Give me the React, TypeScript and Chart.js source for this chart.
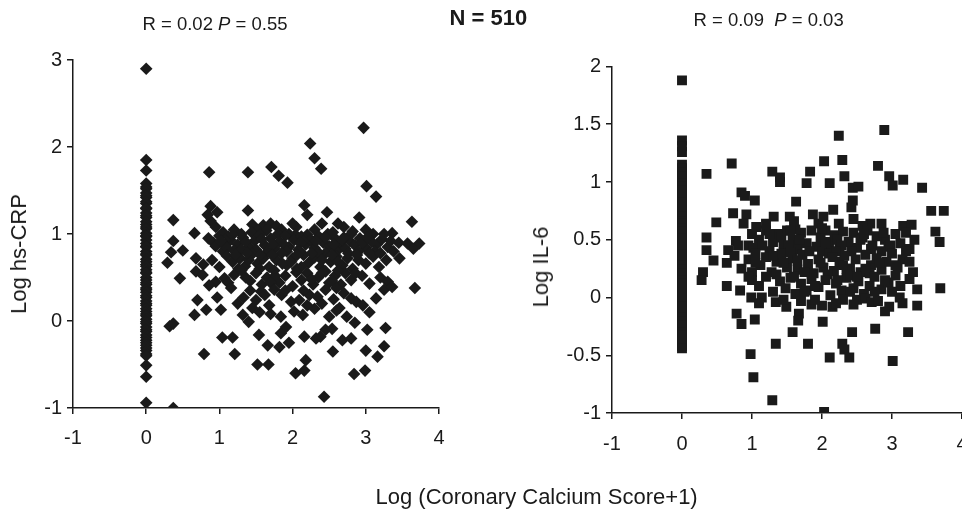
import React, { useEffect, useRef } from 'react';
import { Chart, registerables } from 'chart.js';

Chart.register(...registerables);

// ---------- tick labels ----------
const xTicks = [-1, 0, 1, 2, 3, 4];
const crpYTicks = [-1, 0, 1, 2, 3];
const il6YTicks = [-1, -0.5, 0, 0.5, 1, 1.5, 2];

// ---------- left panel: Log hs-CRP ----------
// subjects with zero calcium score (x = 0)
const crpZeroY = [
  2.9, 1.85, 1.73, 1.58, 1.54, 1.52, 1.47, 1.44, 1.42, 1.37, 1.35, 1.3, 1.29, 1.24, 1.21, 1.19,
  1.14, 1.11, 1.08, 1.06, 1.01, 0.98, 0.97, 0.93, 0.89, 0.86, 0.85, 0.8, 0.77, 0.76, 0.71, 0.68,
  0.65, 0.63, 0.59, 0.56, 0.55, 0.5, 0.47, 0.44, 0.42, 0.38, 0.36, 0.33, 0.29, 0.27, 0.23, 0.2,
  0.18, 0.14, 0.11, 0.08, 0.06, 0.02, -0.01, -0.03, -0.07, -0.1, -0.12, -0.16, -0.19, -0.22,
  -0.25, -0.28, -0.31, -0.34, -0.38, -0.4, -0.51, -0.64, -0.94,
];

// subjects with calcium score > 0: [log calcium, log hs-CRP]
const crpPoints: [number, number][] = [
  // outliers high
  [2.97, 2.22], [2.24, 2.04], [2.3, 1.87], [2.39, 1.75], [0.86, 1.71], [1.39, 1.71], [1.71, 1.77],
  [1.81, 1.67], [1.93, 1.59], [3.01, 1.55], [3.14, 1.43], [2.47, 1.25], [2.16, 1.33],
  // 1.0 – 1.35
  [0.37, 1.16], [0.88, 1.15], [0.84, 1.22], [0.97, 1.25], [0.88, 1.32], [1.39, 1.27], [1.45, 1.11],
  [1.6, 1.1], [1.7, 1.12], [1.78, 1.09], [1.85, 1.05], [2.2, 1.22], [2.91, 1.19], [3.63, 1.14],
  [3.36, 1.01], [1.2, 1.05], [1.3, 1.0], [2.05, 1.08], [2.3, 1.05], [2.55, 1.02], [2.7, 1.08],
  [3.0, 1.05], [3.1, 1.0], [1.05, 1.02], [0.95, 1.08], [2.0, 1.12], [2.4, 1.12], [1.52, 1.04],
  [2.62, 1.12], [2.82, 1.03], [1.95, 1.0], [1.44, 1.02], [1.64, 1.04], [1.8, 1.0], [2.04, 0.99],
  [2.2, 0.99], [2.48, 1.0], [2.8, 1.0], [3.25, 1.0],
  // 0.8 – 1.0
  [0.66, 1.01], [0.85, 0.95], [0.92, 0.9], [1.0, 0.98], [1.08, 0.86], [1.15, 0.93], [1.25, 0.88],
  [1.32, 0.96], [1.4, 0.85], [1.48, 0.92], [1.55, 0.99], [1.62, 0.87], [1.7, 0.95], [1.75, 0.83],
  [1.82, 0.91], [1.9, 0.98], [1.95, 0.85], [2.02, 0.93], [2.08, 0.82], [2.12, 0.97], [2.18, 0.88],
  [2.25, 0.93], [2.3, 0.84], [2.36, 0.97], [2.42, 0.9], [2.5, 0.86], [2.58, 0.95], [2.65, 0.88],
  [2.72, 0.83], [2.78, 0.92], [2.85, 0.87], [2.92, 0.95], [3.0, 0.84], [3.08, 0.91], [3.15, 0.88],
  [3.22, 0.94], [3.3, 0.85], [3.45, 0.9], [3.57, 0.89], [3.73, 0.89], [3.65, 0.83], [0.37, 0.92],
  [0.5, 0.81], [0.34, 0.79], [1.2, 0.81], [1.05, 0.8], [2.6, 0.8], [2.9, 0.8], [3.38, 0.8],
  [1.36, 0.91], [1.58, 0.94], [1.88, 0.88], [2.15, 0.92], [2.45, 0.96], [2.68, 0.93], [1.12, 0.97],
  [0.95, 0.86], [1.02, 0.92], [1.1, 0.84], [1.18, 0.99], [1.3, 0.82], [1.5, 0.82], [1.66, 0.8],
  [1.73, 0.88], [1.92, 0.8], [2.1, 0.9], [2.32, 0.92], [2.56, 0.88], [2.7, 0.96], [2.95, 0.9],
  [3.02, 0.96], [3.12, 0.8], [3.34, 0.92],
  // 0.6 – 0.8
  [0.29, 0.67], [0.68, 0.72], [0.78, 0.65], [0.9, 0.7], [1.0, 0.62], [1.1, 0.75], [1.18, 0.68],
  [1.28, 0.72], [1.35, 0.63], [1.45, 0.77], [1.52, 0.66], [1.6, 0.72], [1.68, 0.62], [1.78, 0.7],
  [1.85, 0.78], [1.92, 0.64], [2.0, 0.72], [2.06, 0.6], [2.15, 0.76], [2.22, 0.67], [2.3, 0.73],
  [2.38, 0.62], [2.45, 0.78], [2.52, 0.68], [2.6, 0.74], [2.68, 0.64], [2.75, 0.72], [2.82, 0.6],
  [2.9, 0.7], [3.0, 0.66], [3.1, 0.74], [3.18, 0.62], [3.28, 0.7], [3.46, 0.72], [3.05, 0.78],
  [2.1, 0.8], [1.4, 0.7], [1.72, 0.76], [2.35, 0.79], [1.22, 0.76], [1.38, 0.78], [1.56, 0.76],
  [1.86, 0.66], [1.98, 0.68], [2.06, 0.76], [2.26, 0.78], [2.4, 0.7], [2.54, 0.76], [2.62, 0.68],
  [2.76, 0.78], [2.88, 0.76], [3.2, 0.78], [1.26, 0.6], [1.55, 0.6], [2.12, 0.62],
  // 0.4 – 0.6
  [0.46, 0.49], [0.68, 0.57], [0.77, 0.53], [0.95, 0.45], [1.07, 0.49], [1.2, 0.53], [1.3, 0.58],
  [1.42, 0.46], [1.5, 0.55], [1.58, 0.42], [1.65, 0.5], [1.75, 0.58], [1.82, 0.44], [1.9, 0.52],
  [2.0, 0.4], [2.05, 0.56], [2.12, 0.47], [2.2, 0.55], [2.28, 0.42], [2.35, 0.5], [2.45, 0.57],
  [2.5, 0.44], [2.58, 0.52], [2.66, 0.42], [2.72, 0.55], [2.8, 0.47], [2.95, 0.52], [3.05, 0.43],
  [3.2, 0.5], [3.3, 0.45], [1.76, 0.52], [2.4, 0.55], [2.62, 0.58], [2.86, 0.55], [1.12, 0.44],
  [1.36, 0.5], [1.7, 0.44], [2.26, 0.48], [2.54, 0.46],
  // 0.2 – 0.4
  [0.86, 0.41], [1.16, 0.38], [0.97, 0.27], [1.33, 0.27], [1.57, 0.34], [1.5, 0.24], [1.62, 0.3],
  [1.75, 0.36], [1.98, 0.22], [2.09, 0.24], [2.23, 0.3], [2.34, 0.28], [2.45, 0.36], [2.56, 0.25],
  [2.7, 0.32], [2.8, 0.26], [2.87, 0.22], [3.14, 0.26], [3.25, 0.36], [3.36, 0.39], [3.67, 0.38],
  [0.7, 0.24], [1.42, 0.35], [1.85, 0.3], [2.6, 0.38], [1.9, 0.35], [2.15, 0.35], [2.4, 0.2],
  [1.25, 0.2],
  // 0 – 0.2
  [0.66, 0.07], [0.82, 0.13], [1.02, 0.13], [1.32, 0.07], [1.45, 0.15], [1.55, 0.1], [1.68, 0.18],
  [1.84, 0.05], [2.02, 0.11], [2.14, 0.07], [2.3, 0.14], [2.5, 0.05], [2.64, 0.15], [2.74, 0.05],
  [2.96, 0.18], [1.4, -0.01], [2.2, 0.18], [3.05, 0.1], [1.7, 0.08], [2.6, 0.12],
  // below 0
  [0.32, -0.06], [0.37, -0.03], [1.91, -0.07], [1.84, -0.14], [1.82, -0.3], [1.66, -0.28],
  [1.54, -0.16], [1.52, -0.5], [1.67, -0.5], [1.04, -0.19], [1.18, -0.19], [0.79, -0.38],
  [1.21, -0.38], [2.45, -0.1], [2.54, -0.09], [2.38, -0.18], [2.32, -0.2], [2.16, -0.18],
  [2.18, -0.45], [2.04, -0.6], [2.16, -0.57], [2.68, -0.22], [3.02, -0.1], [3.27, -0.08],
  [3.0, -0.34], [3.25, -0.29], [3.16, -0.41], [2.84, -0.61], [2.99, -0.57], [2.43, -0.87],
  [0.37, -1.0], [2.85, -0.02], [1.95, -0.25], [2.55, -0.35], [2.8, -0.2],
];

// ---------- right panel: Log IL-6 ----------
const il6ZeroY = [
  1.88, 1.36, 1.31, 1.26, 1.15, 1.12, 1.08, 1.05, 1.03, 0.99, 0.96, 0.93, 0.91, 0.87, 0.84, 0.82,
  0.78, 0.75, 0.72, 0.7, 0.66, 0.64, 0.6, 0.57, 0.55, 0.51, 0.48, 0.46, 0.42, 0.39, 0.37, 0.33,
  0.3, 0.28, 0.24, 0.21, 0.19, 0.15, 0.12, 0.1, 0.06, 0.03, 0.01, -0.03, -0.06, -0.08, -0.12,
  -0.15, -0.17, -0.21, -0.24, -0.26, -0.3, -0.33, -0.35, -0.39, -0.42, -0.44,
];

const il6Points: [number, number][] = [
  // above 0.6
  [2.24, 1.4], [2.89, 1.45], [0.71, 1.16], [0.35, 1.07], [1.29, 1.09], [1.4, 1.04], [1.4, 1.0],
  [1.83, 1.09], [1.78, 0.99], [2.03, 1.18], [2.29, 1.19], [2.32, 1.05], [2.11, 0.99], [2.8, 1.14],
  [2.96, 1.05], [3.01, 0.97], [3.16, 1.02], [3.43, 0.95], [2.44, 0.95], [2.52, 0.96], [2.44, 0.84],
  [2.42, 0.78], [0.85, 0.91], [0.9, 0.88], [1.04, 0.84], [1.63, 0.83], [2.16, 0.76], [3.56, 0.75],
  [3.74, 0.75], [0.73, 0.73], [0.92, 0.72], [1.31, 0.7], [1.87, 0.72], [1.54, 0.7], [2.24, 0.64],
  [2.69, 0.64], [2.85, 0.64], [0.88, 0.64], [1.06, 0.61], [0.49, 0.65], [3.16, 0.62], [3.28, 0.63],
  [3.62, 0.57], [3.68, 0.48], [0.35, 0.52], [2.9, 0.5], [0.77, 0.49], [0.66, 0.41], [1.6, 0.66],
  [1.95, 0.64], [2.45, 0.68], [2.58, 0.62], [1.2, 0.64], [2.02, 0.7],
  // 0.4 – 0.6
  [1.0, 0.55], [1.1, 0.5], [1.2, 0.58], [1.3, 0.48], [1.38, 0.55], [1.45, 0.45], [1.5, 0.58],
  [1.58, 0.5], [1.65, 0.42], [1.7, 0.56], [1.78, 0.47], [1.85, 0.58], [1.92, 0.44], [1.98, 0.52],
  [2.05, 0.58], [2.1, 0.46], [2.18, 0.54], [2.25, 0.42], [2.3, 0.57], [2.38, 0.48], [2.45, 0.56],
  [2.5, 0.43], [2.58, 0.52], [2.65, 0.58], [2.72, 0.45], [2.78, 0.53], [2.95, 0.44], [3.05, 0.55],
  [3.12, 0.47], [3.2, 0.56], [3.25, 0.42], [0.95, 0.45], [1.25, 0.4], [2.0, 0.4], [2.85, 0.4],
  [3.32, 0.5], [1.62, 0.59], [2.22, 0.5], [2.88, 0.56], [1.42, 0.52], [1.02, 0.43], [1.15, 0.45],
  [1.25, 0.55], [1.52, 0.45], [1.68, 0.5], [2.05, 0.48], [2.28, 0.45], [2.42, 0.4], [2.55, 0.5],
  [2.7, 0.42], [2.98, 0.45], [3.2, 0.4], [2.0, 0.6], [1.55, 0.58], [2.6, 0.55], [0.8, 0.45],
  // 0.2 – 0.4
  [0.35, 0.41], [0.45, 0.32], [0.3, 0.22], [0.64, 0.3], [0.75, 0.36], [0.85, 0.25], [0.95, 0.33],
  [1.05, 0.38], [1.12, 0.28], [1.2, 0.35], [1.28, 0.22], [1.35, 0.31], [1.42, 0.38], [1.5, 0.26],
  [1.58, 0.34], [1.65, 0.24], [1.72, 0.37], [1.8, 0.29], [1.88, 0.21], [1.95, 0.33], [2.02, 0.26],
  [2.1, 0.38], [2.17, 0.23], [2.25, 0.31], [2.32, 0.36], [2.4, 0.25], [2.48, 0.33], [2.55, 0.22],
  [2.62, 0.37], [2.7, 0.28], [2.78, 0.34], [2.85, 0.24], [2.92, 0.31], [3.0, 0.38], [3.08, 0.26],
  [3.15, 0.33], [3.25, 0.31], [3.3, 0.22], [1.0, 0.22], [2.2, 0.4], [1.55, 0.39], [2.68, 0.21],
  [1.05, 0.3], [1.35, 0.2], [1.45, 0.3], [1.82, 0.4], [1.98, 0.3], [2.08, 0.2], [2.15, 0.35],
  [2.35, 0.25], [2.62, 0.25], [2.82, 0.3], [3.05, 0.28], [1.3, 0.36], [1.65, 0.32], [2.3, 0.28],
  // 0 – 0.2
  [0.28, 0.15], [0.64, 0.1], [0.83, 0.06], [0.99, 0.0], [1.14, 0.0], [1.0, 0.15], [1.1, 0.1],
  [1.2, 0.18], [1.3, 0.05], [1.4, 0.14], [1.48, 0.08], [1.55, 0.17], [1.62, 0.03], [1.7, 0.12],
  [1.78, 0.06], [1.85, 0.16], [1.95, 0.09], [2.05, 0.15], [2.12, 0.02], [2.2, 0.12], [2.28, 0.06],
  [2.35, 0.17], [2.45, 0.08], [2.52, 0.14], [2.6, 0.03], [2.68, 0.1], [2.75, 0.18], [2.85, 0.07],
  [2.95, 0.13], [3.11, 0.0], [3.25, 0.16], [3.36, 0.07], [3.69, 0.08], [2.4, 0.19], [3.05, 0.19],
  [1.6, 0.18], [1.75, 0.22], [1.9, 0.1], [2.22, 0.15], [2.5, 0.18], [2.75, 0.05], [2.9, 0.15],
  [3.12, 0.1], [1.75, 0.05], [2.4, 0.05], [0.95, 0.18], [3.0, 0.05],
  // below 0
  [1.34, -0.04], [1.7, -0.03], [1.85, -0.06], [2.0, -0.07], [2.15, -0.08], [2.3, -0.02],
  [2.5, -0.02], [2.62, -0.01], [2.71, -0.04], [1.49, -0.08], [1.67, -0.14], [1.66, -0.2],
  [1.58, -0.3], [1.8, -0.4], [2.01, -0.21], [2.11, -0.52], [2.29, -0.4], [2.32, -0.45],
  [2.39, -0.52], [2.43, -0.3], [2.76, -0.27], [3.01, -0.55], [3.23, -0.3], [2.96, -0.08],
  [3.36, -0.07], [0.78, -0.14], [0.85, -0.23], [1.04, -0.19], [1.34, -0.4], [0.98, -0.49],
  [1.02, -0.69], [1.29, -0.89], [2.03, -0.99], [2.9, -0.12], [1.1, -0.05], [1.45, -0.02],
  [1.9, -0.02], [2.2, -0.05], [2.45, -0.06], [2.8, -0.03], [3.15, -0.05],
];

const FONT = '"Liberation Sans", Arial, Helvetica, sans-serif';
const INK = '#1a1a1a';

type PanelCfg = {
  zeroY: number[];
  points: [number, number][];
  yTicks: number[];
  yMin: number;
  yMax: number;
  pointStyle: string;
  radius: number;
  padTop: number;
  padRight: number;
  yAxisWidth: number;
  xAxisHeight: number;
  xTickPad: number;
};

function buildChart(canvas: HTMLCanvasElement, cfg: PanelCfg) {
  const data = [
    ...cfg.zeroY.map((y) => ({ x: 0, y })),
    ...cfg.points.map(([x, y]) => ({ x, y })),
  ];
  return new Chart(canvas, {
    type: 'scatter',
    data: {
      datasets: [
        {
          data,
          pointStyle: cfg.pointStyle as any,
          pointRadius: cfg.radius,
          pointHoverRadius: cfg.radius,
          backgroundColor: INK,
          borderColor: INK,
          borderWidth: 0,
        },
      ],
    },
    options: {
      responsive: false,
      animation: false,
      events: [],
      layout: { padding: { top: cfg.padTop, right: cfg.padRight, bottom: 0, left: 0 } },
      plugins: { legend: { display: false }, tooltip: { enabled: false }, title: { display: false } },
      scales: {
        x: {
          type: 'linear',
          min: -1,
          max: 4,
          afterBuildTicks: (s: any) => {
            s.ticks = xTicks.map((v) => ({ value: v }));
          },
          afterFit: (s: any) => {
            s.height = cfg.xAxisHeight;
          },
          ticks: {
            color: INK,
            font: { family: FONT, size: 20 },
            padding: cfg.xTickPad,
            maxRotation: 0,
            autoSkip: false,
            callback: (v: any) => String(v),
          },
          grid: { drawOnChartArea: false, drawTicks: true, tickLength: 6, color: INK, lineWidth: 1.5 },
          border: { display: true, color: INK, width: 1.5 },
        },
        y: {
          type: 'linear',
          min: cfg.yMin,
          max: cfg.yMax,
          afterBuildTicks: (s: any) => {
            s.ticks = cfg.yTicks.map((v) => ({ value: v }));
          },
          afterFit: (s: any) => {
            s.width = cfg.yAxisWidth;
          },
          ticks: {
            color: INK,
            font: { family: FONT, size: 20 },
            padding: 5,
            autoSkip: false,
            callback: (v: any) => String(v),
          },
          grid: { drawOnChartArea: false, drawTicks: true, tickLength: 6, color: INK, lineWidth: 1.5 },
          border: { display: true, color: INK, width: 1.5 },
        },
      },
    },
  });
}

export default function App() {
  const leftRef = useRef<HTMLCanvasElement>(null);
  const rightRef = useRef<HTMLCanvasElement>(null);

  useEffect(() => {
    const left = buildChart(leftRef.current!, {
      zeroY: crpZeroY,
      points: crpPoints,
      yTicks: crpYTicks,
      yMin: -1,
      yMax: 3,
      pointStyle: 'rectRot',
      radius: 6.3,
      padTop: 60,
      padRight: 41,
      yAxisWidth: 73,
      xAxisHeight: 101,
      xTickPad: 12,
    });
    const right = buildChart(rightRef.current!, {
      zeroY: il6ZeroY,
      points: il6Points,
      yTicks: il6YTicks,
      yMin: -1,
      yMax: 2,
      pointStyle: 'rect',
      radius: 7,
      padTop: 66.5,
      padRight: 38,
      yAxisWidth: 132,
      xAxisHeight: 96,
      xTickPad: 13,
    });
    return () => {
      left.destroy();
      right.destroy();
    };
  }, []);

  const txt: React.CSSProperties = {
    position: 'absolute',
    fontFamily: FONT,
    color: INK,
    lineHeight: 1,
    whiteSpace: 'pre',
    margin: 0,
  };

  return (
    <div
      style={{
        position: 'fixed',
        left: 0,
        top: 0,
        width: 962,
        height: 509,
        overflow: 'hidden',
        background: '#fff',
      }}
    >
      <canvas
        ref={leftRef}
        width={480}
        height={509}
        style={{ position: 'absolute', left: 0, top: 0, width: 480, height: 509, display: 'block' }}
      />
      <canvas
        ref={rightRef}
        width={520}
        height={509}
        style={{ position: 'absolute', left: 480, top: 0, width: 520, height: 509, display: 'block' }}
      />
      <div style={{ ...txt, left: 142.5, top: 14.5, fontSize: 18.5 }}>
        R = 0.02 <i>P</i> = 0.55
      </div>
      <div style={{ ...txt, left: 449.5, top: 7, fontSize: 22, fontWeight: 'bold' }}>N = 510</div>
      <div style={{ ...txt, left: 693.5, top: 11, fontSize: 18.5 }}>
        {'R = 0.09  '}
        <i>P</i>
        {' = 0.03'}
      </div>
      <div
        style={{
          ...txt,
          left: 19,
          top: 254,
          fontSize: 22,
          transform: 'translate(-50%, -50%) rotate(-90deg)',
        }}
      >
        Log hs-CRP
      </div>
      <div
        style={{
          ...txt,
          left: 541,
          top: 267,
          fontSize: 22,
          transform: 'translate(-50%, -50%) rotate(-90deg)',
        }}
      >
        Log IL-6
      </div>
      <div style={{ ...txt, left: 375.5, top: 486, fontSize: 22 }}>
        Log (Coronary Calcium Score+1)
      </div>
    </div>
  );
}
